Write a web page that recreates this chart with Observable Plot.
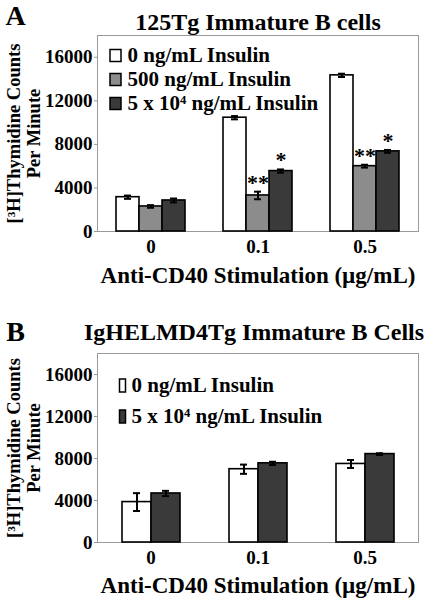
<!DOCTYPE html>
<html><head><meta charset="utf-8">
<script src="https://cdn.jsdelivr.net/npm/d3@7"></script>
<script src="https://cdn.jsdelivr.net/npm/@observablehq/plot@0.6"></script>
<style>body{margin:0;background:#fff}svg{display:block}</style>
</head><body><div id="chart"></div>
<script>
// ---- data ----
const doses = ["0", "0.1", "0.5"];
const yTicks = [0, 4000, 8000, 12000, 16000];
const yMax = 18000;

const titleA = "125Tg Immature B cells";
const seriesA = ["0 ng/mL Insulin", "500 ng/mL Insulin", "5 x 10⁴ ng/mL Insulin"];
const valuesA = [[3150, 10450, 14340], [2300, 3310, 6000], [2850, 5550, 7360]];
const errorsA = [[150, 150, 150], [120, 350, 130], [180, 150, 130]];
const starsA = [["", "", ""], ["", "**", "**"], ["", "*", "*"]];
const colorsA = ["#ffffff", "#8c8c8c", "#3a3a3a"];

const titleB = "IgHELMD4Tg Immature B Cells";
const seriesB = ["0 ng/mL Insulin", "5 x 10⁴ ng/mL Insulin"];
const valuesB = [[3850, 6980, 7480], [4670, 7540, 8420]];
const errorsB = [[850, 440, 380], [250, 150, 80]];
const starsB = [["", "", ""], ["", "", ""]];
const colorsB = ["#ffffff", "#3a3a3a"];

const xLabel = "Anti-CD40 Stimulation (µg/mL)";
const yLabel = "[³H]Thymidine Counts\nPer Minute";

// ---- drawing ----
const FONT = "'Liberation Serif', 'DejaVu Serif', serif";

function rectSymbol(w, h) {
  return {draw(ctx) { ctx.rect(-w / 2, -h / 2, w, h); }};
}

function panel(cfg) {
  const rows = [];
  cfg.series.forEach((s, i) => doses.forEach((d, j) => rows.push({
    dose: d, series: s, value: cfg.values[i][j], err: cfg.errors[i][j], star: cfg.stars[i][j]
  })));
  const txt = {fontFamily: FONT, fontWeight: "bold", fill: "black"};
  const legend = [];
  cfg.series.forEach((s, i) => {
    legend.push(Plot.dot([s], {facet: "super", frameAnchor: "top-left",
      dx: cfg.swatchDx, dy: cfg.legendDy + i * cfg.legendStep,
      symbol: rectSymbol(cfg.swatchW, cfg.swatchH), r: 5,
      fill: cfg.colors[i], stroke: "black", strokeWidth: 1.5}));
    legend.push(Plot.text([s], {facet: "super", frameAnchor: "top-left",
      dx: cfg.textDx, dy: cfg.legendDy + i * cfg.legendStep,
      text: d => d, textAnchor: "start", lineAnchor: "middle", fontSize: 21, ...txt}));
  });
  return Plot.plot({
    width: 424,
    height: cfg.height,
    marginLeft: 96, marginRight: 6,
    marginTop: cfg.marginTop, marginBottom: cfg.marginBottom,
    style: {fontFamily: FONT, fontWeight: "bold", color: "black", background: "white", overflow: "visible"},
    fx: {domain: doses, padding: 0},
    x: {domain: cfg.series, paddingInner: 0, paddingOuter: cfg.pad, axis: null},
    y: {domain: [0, yMax]},
    color: {domain: cfg.series, range: cfg.colors},
    marks: [
      Plot.frame({facet: "super", stroke: "#9a9a9a", strokeWidth: 1}),
      Plot.axisY({ticks: yTicks, tickFormat: d => String(d), tickSize: 3, tickPadding: 2,
        stroke: "#9a9a9a", fontSize: 19, label: null, ...txt}),
      Plot.axisFx({anchor: "bottom", tickSize: 0, tickPadding: 8, fontSize: 19, label: null, ...txt}),
      Plot.barY(rows, {fx: "dose", x: "series", y: "value", fill: "series",
        stroke: "black", strokeWidth: 1.6}),
      Plot.ruleX(rows, {fx: "dose", x: "series", y1: d => d.value - d.err, y2: d => d.value + d.err,
        stroke: "black", strokeWidth: 2}),
      Plot.tickY(rows, {fx: "dose", x: "series", y: d => d.value - d.err,
        insetLeft: cfg.cap, insetRight: cfg.cap, stroke: "black", strokeWidth: 2}),
      Plot.tickY(rows, {fx: "dose", x: "series", y: d => d.value + d.err,
        insetLeft: cfg.cap, insetRight: cfg.cap, stroke: "black", strokeWidth: 2}),
      Plot.text(rows.filter(d => d.star), {fx: "dose", x: "series", y: d => d.value + d.err,
        text: "star", dy: -9, fontSize: 22, ...txt}),
      ...legend,
      Plot.text([cfg.title], {facet: "super", frameAnchor: "top", dy: cfg.titleDy, dx: cfg.titleDx,
        lineAnchor: "middle", text: d => d, fontSize: 24, ...txt}),
      Plot.text([cfg.letter], {facet: "super", frameAnchor: "top-left", dx: -82, dy: cfg.letterDy,
        textAnchor: "middle", lineAnchor: "middle", text: d => d, fontSize: 28, ...txt}),
      Plot.text([yLabel], {facet: "super", frameAnchor: "left", dx: -74, rotate: -90,
        textAnchor: "middle", lineAnchor: "middle",
        text: d => d, fontSize: 18.5, lineHeight: 1.08, ...txt}),
      Plot.text([xLabel], {facet: "super", frameAnchor: "bottom", dy: cfg.xLabelDy,
        lineAnchor: "middle", text: d => d, fontSize: 23, ...txt})
    ]
  });
}

const chart = document.getElementById("chart");
chart.append(panel({
  letter: "A", title: titleA, series: seriesA, values: valuesA, errors: errorsA, stars: starsA,
  colors: colorsA, height: 300, marginTop: 35, marginBottom: 69, pad: 0.736, cap: 8,
  swatchDx: 18, swatchW: 11, swatchH: 12, textDx: 30, legendDy: 20, legendStep: 24,
  titleDy: -13, titleDx: 0, letterDy: -19, xLabelDy: 44
}));
chart.append(panel({
  letter: "B", title: titleB, series: seriesB, values: valuesB, errors: errorsB, stars: starsB,
  colors: colorsB, height: 301, marginTop: 53, marginBottom: 59, pad: 0.789, cap: 11,
  swatchDx: 25, swatchW: 6, swatchH: 13, textDx: 34, legendDy: 32, legendStep: 31,
  titleDy: -21, titleDx: -4, letterDy: -21, xLabelDy: 43
}));
</script>
</body></html>
